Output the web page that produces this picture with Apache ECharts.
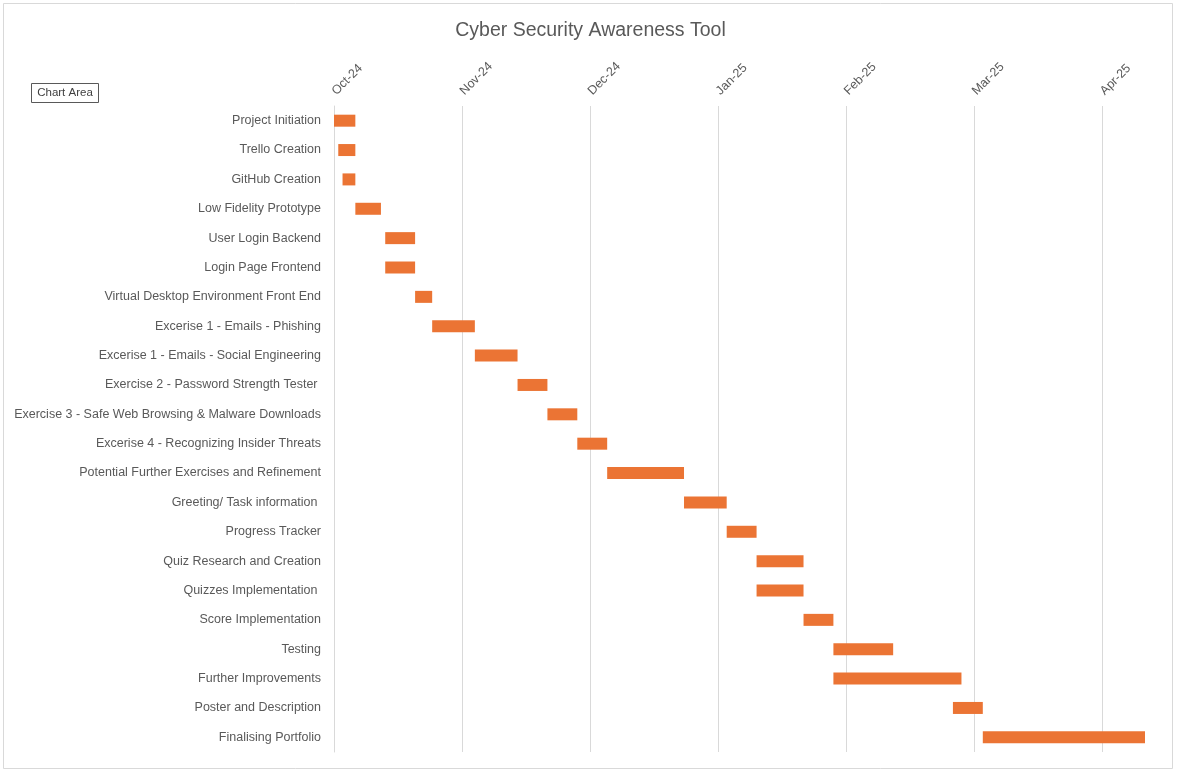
<!DOCTYPE html>
<html>
<head>
<meta charset="utf-8">
<script src="https://cdn.jsdelivr.net/npm/echarts@6/dist/echarts.min.js"></script>
<style>html,body{margin:0;padding:0;background:#fff;}#c{width:1181px;height:776px;}</style>
</head>
<body>
<div id="c"></div>
<script>
const categories = [
  'Project Initiation',
  'Trello Creation',
  'GitHub Creation',
  'Low Fidelity Prototype',
  'User Login Backend',
  'Login Page Frontend',
  'Virtual Desktop Environment Front End',
  'Excerise 1 - Emails - Phishing',
  'Excerise 1 - Emails - Social Engineering',
  'Exercise 2 - Password Strength Tester ',
  'Exercise 3 - Safe Web Browsing & Malware Downloads',
  'Excerise 4 - Recognizing Insider Threats',
  'Potential Further Exercises and Refinement',
  'Greeting/ Task information ',
  'Progress Tracker',
  'Quiz Research and Creation',
  'Quizzes Implementation ',
  'Score Implementation',
  'Testing',
  'Further Improvements',
  'Poster and Description',
  'Finalising Portfolio'
];
// days from the axis start (first tick "Oct-24")
const startDay = [0, 1, 2, 5, 12, 12, 19, 23, 33, 43, 50, 57, 64, 82, 92, 99, 99, 110, 117, 117, 145, 152];
const durationDays = [5, 4, 3, 6, 7, 7, 4, 10, 10, 7, 7, 7, 18, 10, 7, 11, 11, 7, 14, 30, 7, 38];
const tickLabels = ['Oct-24', 'Nov-24', 'Dec-24', 'Jan-25', 'Feb-25', 'Mar-25', 'Apr-25'];
const tickStep = 30;
const axisMax = 190;

const FONT = '"Liberation Sans", Arial, sans-serif';
const chart = echarts.init(document.getElementById('c'));
chart.setOption({
  animation: false,
  backgroundColor: '#ffffff',
  textStyle: { fontFamily: FONT },
  title: {
    text: 'Cyber Security Awareness Tool',
    left: 'center',
    top: 16,
    textStyle: { fontFamily: FONT, fontSize: 19.5, fontWeight: 'normal', color: '#595959' }
  },
  graphic: [
    { type: 'rect', shape: { x: 3.5, y: 3.5, width: 1169, height: 765 }, style: { fill: 'none', stroke: '#d9d9d9', lineWidth: 1 }, silent: true },
    { type: 'rect', shape: { x: 31.5, y: 83.5, width: 67, height: 19 }, style: { fill: '#ffffff', stroke: '#595959', lineWidth: 1 }, silent: true },
    { type: 'text', x: 65, y: 93, style: { text: 'Chart Area', fontFamily: FONT, fontSize: 11.5, fill: '#404040', align: 'center', verticalAlign: 'middle' }, silent: true }
  ],
  grid: { left: 334, right: 36, top: 106, bottom: 24, containLabel: false },
  xAxis: {
    type: 'value',
    position: 'top',
    min: 0,
    max: axisMax,
    interval: tickStep,
    axisLine: { show: false },
    axisTick: { show: false },
    axisLabel: {
      rotate: -45,
      margin: 13,
      color: '#595959',
      fontSize: 12.5,
      fontFamily: FONT,
      formatter: function (v) { return v % tickStep === 0 ? (tickLabels[v / tickStep] || '') : ''; }
    },
    splitLine: { show: true, showMaxLine: false, lineStyle: { color: '#d9d9d9', width: 1 } }
  },
  yAxis: {
    type: 'category',
    inverse: true,
    data: categories,
    axisLine: { show: true, lineStyle: { color: '#d9d9d9' } },
    axisTick: { show: false },
    axisLabel: { color: '#595959', fontSize: 12.5, fontFamily: FONT, margin: 13 }
  },
  series: [
    {
      name: 'Start',
      type: 'bar',
      stack: 'gantt',
      silent: true,
      itemStyle: { color: 'rgba(0,0,0,0)' },
      barWidth: 12,
      data: startDay
    },
    {
      name: 'Duration',
      type: 'bar',
      stack: 'gantt',
      silent: true,
      itemStyle: { color: '#EB7434' },
      barWidth: 12,
      data: durationDays
    }
  ]
});
</script>
</body>
</html>
